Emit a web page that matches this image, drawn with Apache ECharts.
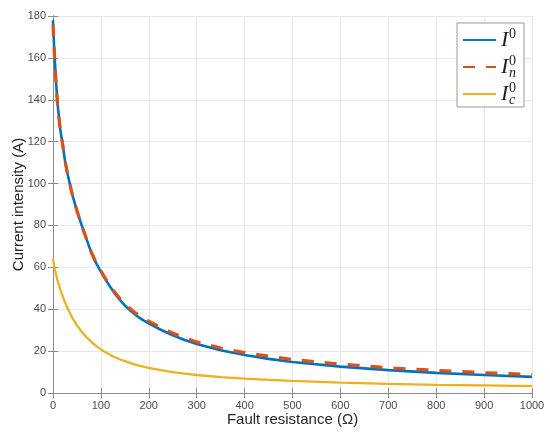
<!DOCTYPE html>
<html>
<head>
<meta charset="utf-8">
<script src="https://cdn.jsdelivr.net/npm/echarts@6/dist/echarts.min.js"></script>
<style>html,body{margin:0;padding:0;background:#fff;}#c{width:550px;height:438px;}</style>
</head>
<body>
<div id="c"></div>
<script>
const resistance = [0,2,4,6,8,10,15,20,25,30,40,50,60,70,80,90,100,110,120,130,140,150,160,170,180,190,200,225,250,275,300,350,400,450,500,600,700,800,900,1000];
const I0  = [178,167,158,150,143,137,126,119,111,105,95,87,80,73.5,67,62,58,54,50.5,47.2,44.3,41.8,39.6,37.7,36,34.6,33.3,30.2,27.6,25.3,23.4,20.4,18.1,16.3,14.8,12.6,10.9,9.6,8.6,7.7];
const In0 = [176,166,157,149.5,142.5,136.5,126,119,111,105,95,87,80,73.5,67.2,62.3,58.3,54.4,51,47.8,45,42.6,40.5,38.6,37,35.6,34.3,31.3,28.6,26.3,24.4,21.5,19.3,17.6,16,13.8,12,10.8,9.7,8.8];
const Ic0 = [64,61.5,59,57,55,53.3,49.5,46.3,43.3,40.7,36,32.3,29.2,26.6,24.4,22.5,20.8,19.4,18.1,17,16,15.2,14.4,13.7,13.1,12.5,12,10.9,10,9.3,8.6,7.6,6.9,6.3,5.8,5,4.4,3.9,3.6,3.3];
const xTicks = {min: 0, max: 1000, interval: 100};
const yTicks = {min: 0, max: 180, interval: 20};
const seriesNames = ['I0', 'In0', 'Ic0'];
const legendSub = {'I0': ' ', 'In0': 'n', 'Ic0': 'c'};

function pairs(ys) { return resistance.map((x, i) => [x, ys[i]]); }

const chart = echarts.init(document.getElementById('c'), null, {renderer: 'canvas'});
const axisCol = '#8c8c8c';
const labelCol = '#4a4a4a';
const sans = 'Liberation Sans';
const baseAxis = {
  type: 'value',
  axisLine: {show: true, lineStyle: {color: axisCol, width: 1}},
  axisTick: {show: true, inside: true, length: 5, lineStyle: {color: axisCol}},
  splitLine: {show: false},
  axisLabel: {show: false}
};
chart.setOption({
  animation: false,
  backgroundColor: '#fff',
  grid: {left: 53, right: 18, top: 16, bottom: 45, containLabel: false, outerBoundsMode: 'none'},
  xAxis: [
    Object.assign({}, baseAxis, xTicks, {
      position: 'bottom',
      name: 'Fault resistance (Ω)', nameLocation: 'middle', nameGap: 19, nameMoveOverlap: false,
      nameTextStyle: {fontFamily: sans, fontSize: 15, color: '#262626'},
      axisLabel: {show: true, margin: 7, fontFamily: sans, fontSize: 11, color: labelCol, formatter: v => String(v)},
      splitLine: {show: true, lineStyle: {color: '#e6e6e6', width: 1}}
    }),
    Object.assign({}, baseAxis, xTicks, {position: 'top'})
  ],
  yAxis: [
    Object.assign({}, baseAxis, yTicks, {
      position: 'left',
      name: 'Current intensity (A)', nameLocation: 'middle', nameGap: 27, nameMoveOverlap: false,
      nameTextStyle: {fontFamily: sans, fontSize: 15, color: '#262626'},
      axisLabel: {show: true, margin: 7, fontFamily: sans, fontSize: 11, color: labelCol, formatter: v => String(v)},
      splitLine: {show: true, lineStyle: {color: '#e6e6e6', width: 1}}
    }),
    Object.assign({}, baseAxis, yTicks, {position: 'right'})
  ],
  legend: {
    orient: 'vertical', left: 457, top: 23,
    padding: [4, 8, 0, 5],
    itemGap: 1, itemWidth: 33, itemHeight: 14,
    selectedMode: false,
    backgroundColor: '#fff', borderColor: '#9a9a9a', borderWidth: 1,
    itemStyle: {color: 'transparent', borderWidth: 0, opacity: 0},
    data: seriesNames,
    formatter: function (name) {
      return '{sp| }{sup|0}\n{i|I}\n{sp| }{sub|' + legendSub[name] + '}';
    },
    textStyle: {
      rich: {
        sp: {width: 8, fontSize: 10, lineHeight: 2},
        sup: {fontFamily: 'Liberation Serif', fontSize: 14, color: '#222', lineHeight: 2},
        i: {fontFamily: 'Liberation Serif', fontStyle: 'italic', fontSize: 22, color: '#222', lineHeight: 10},
        sub: {fontFamily: 'Liberation Serif', fontStyle: 'italic', fontSize: 14, color: '#222', lineHeight: 2}
      }
    }
  },
  series: [
    {name: 'I0', type: 'line', data: pairs(I0), symbol: 'none', smooth: false,
     lineStyle: {color: '#0072BD', width: 2.6}, itemStyle: {color: '#0072BD'}, z: 2},
    {name: 'In0', type: 'line', data: pairs(In0), symbol: 'none', smooth: false,
     lineStyle: {color: '#D95319', width: 3.2, type: [12, 11]}, itemStyle: {color: '#D95319'}, z: 3},
    {name: 'Ic0', type: 'line', data: pairs(Ic0), symbol: 'none', smooth: false,
     lineStyle: {color: '#EDB120', width: 2.3}, itemStyle: {color: '#EDB120'}, z: 2}
  ]
});
</script>
</body>
</html>
